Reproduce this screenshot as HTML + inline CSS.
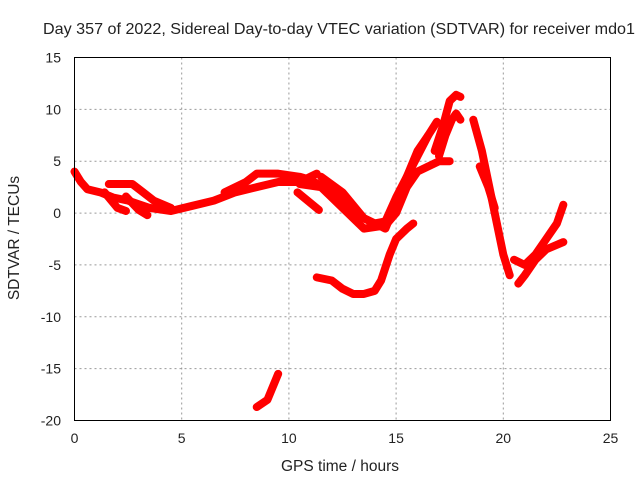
<!DOCTYPE html>
<html><head><meta charset="utf-8"><style>
body{margin:0;background:#fff}
svg text{font-family:"Liberation Sans",sans-serif;font-size:14px;fill:#222}
</style></head><body>
<svg id="chart" width="640" height="480">
<text x="339" y="34" text-anchor="middle" style="font-size:15.8px" textLength="592" lengthAdjust="spacingAndGlyphs">Day 357 of 2022, Sidereal Day-to-day VTEC variation (SDTVAR) for receiver mdo1</text>
<text x="340" y="471" text-anchor="middle" style="font-size:15.5px">GPS time / hours</text>
<text transform="translate(19,238) rotate(-90)" text-anchor="middle" style="font-size:15.5px">SDTVAR / TECUs</text>
<g id="grid"></g><g id="ticks"></g><g id="series"></g>
<rect x="74.5" y="57.5" width="536" height="363" fill="none" stroke="#000"/>
</svg>
<script>
const xTicks=[0,5,10,15,20,25];
const yTicks=[15,10,5,0,-5,-10,-15,-20];
const trackA_x=[0,0.3,0.6,1.2,1.8,2.5,3.5,4.5,5.5,6.5,7.5,8.5,9.5,10.5,11.3];
const trackA_y=[4,3,2.3,2,1.5,1.2,0.5,0.2,0.7,1.2,2,2.5,3,3,3.8];
const trackB_x=[1.6,2.7,3.2,3.7,4.5];
const trackB_y=[2.8,2.8,2,1.2,0.5];
const trackC_x=[1.4,2,2.4];
const trackC_y=[2,0.5,0.2];
const trackC2_x=[2.4,3,3.4];
const trackC2_y=[1.6,0.3,-0.2];
const trackD_x=[7,8,8.5,9.5,10.5,11,12.5,13.5,14,14.5,15,15.5,16,16.5,16.9];
const trackD_y=[2,3,3.8,3.8,3.5,3.2,1.5,-0.5,-1,-0.8,1.5,3.5,5.5,7.5,8.8];
const trackE_x=[10.5,11.5,12.5,13.5,14.5,15,15.5,16,17,17.5];
const trackE_y=[2.8,2.5,0.5,-1.5,-1.2,0,2.5,4,5,5];
const trackF_x=[11.5,12.5,13.5,14.5,15,15.5,16,16.5];
const trackF_y=[3.5,2,-0.5,-1.5,1,3.5,6,7.5];
const trackG_x=[10.4,11.4];
const trackG_y=[2,0.3];
const trackP1_x=[16.8,17.2,17.5,17.8,18];
const trackP1_y=[6,8.5,10.8,11.4,11.2];
const trackP2_x=[17,17.3,17.6,17.8,18];
const trackP2_y=[5.5,7.5,9,9.6,9];
const trackDown_x=[18.6,19,19.3,19.6,20,20.3];
const trackDown_y=[9,6,3,0,-4,-6];
const trackDown2_x=[18.9,19.3,19.6];
const trackDown2_y=[4.5,2.5,0.5];
const trackLow_x=[11.3,12,12.5,13,13.5,14,14.3,14.7,15,15.5,15.8];
const trackLow_y=[-6.2,-6.5,-7.3,-7.8,-7.8,-7.5,-6.5,-4,-2.5,-1.5,-1];
const trackBot_x=[8.5,9,9.3,9.5];
const trackBot_y=[-18.7,-18,-16.5,-15.5];
const trackR1_x=[20.5,21,21.5,22,22.5,22.8];
const trackR1_y=[-4.5,-5,-4,-2.5,-1,0.8];
const trackR2_x=[20.7,21,21.5,22,22.8];
const trackR2_y=[-6.8,-6,-4.5,-3.5,-2.8];
const tracks=[[trackA_x,trackA_y],[trackB_x,trackB_y],[trackC_x,trackC_y],[trackC2_x,trackC2_y],[trackD_x,trackD_y],[trackE_x,trackE_y],[trackF_x,trackF_y],[trackG_x,trackG_y],[trackP1_x,trackP1_y],[trackP2_x,trackP2_y],[trackDown_x,trackDown_y],[trackDown2_x,trackDown2_y],[trackLow_x,trackLow_y],[trackBot_x,trackBot_y],[trackR1_x,trackR1_y],[trackR2_x,trackR2_y]];
const X=v=>74.5+v*(536/25);
const Y=v=>57.5+(15-v)*(363/35);
const NS='http://www.w3.org/2000/svg';
const grid=document.getElementById('grid'),ticks=document.getElementById('ticks'),ser=document.getElementById('series');
function mk(tag,attrs,parent){const e=document.createElementNS(NS,tag);for(const k in attrs)e.setAttribute(k,attrs[k]);parent.appendChild(e);return e;}
xTicks.forEach(t=>{
  if(t>0&&t<25){const g=mk('line',{x1:X(t),x2:X(t),y1:57.5,y2:420.5,stroke:'#999','stroke-dasharray':'2,3'},grid);
  
  }
  const l=mk('text',{x:X(t),y:443,'text-anchor':'middle'},ticks);l.textContent=t;
  
  
});
yTicks.forEach(t=>{
  if(t<15&&t>-20){const g=mk('line',{x1:74.5,x2:610.5,y1:Y(t),y2:Y(t),stroke:'#999','stroke-dasharray':'2,3'},grid);
  
  }
  const l=mk('text',{x:61,y:Y(t)+5,'text-anchor':'end'},ticks);l.textContent=t;
  
  
});
tracks.forEach(([xs,ys])=>{
  const pts=xs.map((x,i)=>X(x)+','+Y(ys[i])).join(' ');
  const p=mk('polyline',{points:pts,fill:'none',stroke:'#f00','stroke-width':8,'stroke-linejoin':'round','stroke-linecap':'round'},ser);
  
  
});
</script>
</body></html>
